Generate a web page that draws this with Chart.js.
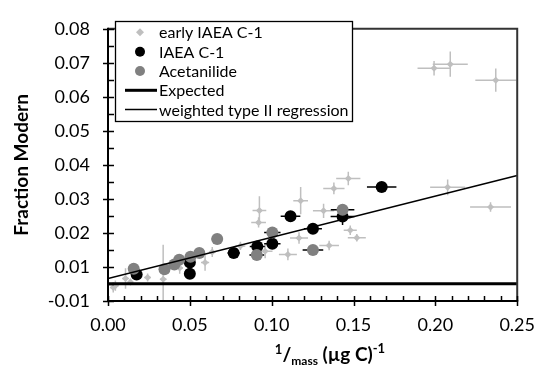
<!DOCTYPE html>
<html><head><meta charset="utf-8">
<script src="https://cdn.jsdelivr.net/npm/chart.js@4"></script>
<style>html,body{margin:0;padding:0;background:#fff}#wrap{width:548px;height:375px}</style>
</head><body><div id="wrap"><canvas id="c" width="548" height="375"></canvas></div>
<script>
// ---- data ----
const earlyX    = [0.0032,0.0045,0.0107,0.0137,0.0242,0.0337,0.0438,0.0593,0.0637,0.0809,0.0925,0.0920,0.0960,0.1099,0.1167,0.1177,0.1317,0.1380,0.1468,0.1351,0.1480,0.1520,0.1992,0.2091,0.2369,0.2075,0.2337];
const earlyY    = [0.0040,0.0045,0.0066,0.0056,0.0069,0.0064,0.0097,0.0113,0.0144,0.0162,0.0266,0.0231,0.0146,0.0137,0.0185,0.0295,0.0265,0.0331,0.0360,0.0163,0.0208,0.0186,0.0684,0.0696,0.0649,0.0334,0.0276];
const earlyXErr = [0.0020,0.0020,0.0020,0.0015,0.0020,0.0020,0.0020,0.0025,0.0020,0.0030,0.0042,0.0045,0.0045,0.0055,0.0055,0.0045,0.0065,0.0065,0.0074,0.0060,0.0040,0.0055,0.0101,0.0107,0.0125,0.0107,0.0125];
const earlyYErr = [0.0015,0.0015,0.0030,0.0010,0.0012,0.0101,0.0017,0.0024,0.0015,0.0012,0.0042,0.0015,0.0020,0.0017,0.0017,0.0040,0.0021,0.0017,0.0020,0.0014,0.0014,0.0011,0.0021,0.0037,0.0034,0.0023,0.0014];

const iaeaX    = [0.0175,0.0500,0.0500,0.0768,0.0912,0.1004,0.1115,0.1252,0.1433,0.1672];
const iaeaY    = [0.0078,0.0113,0.0080,0.0141,0.0160,0.0168,0.0249,0.0212,0.0248,0.0335];
const iaeaXErr = [0.0009,0.0025,0.0025,0.0038,0.0046,0.0050,0.0060,0.0055,0.0073,0.0090];
const iaeaYErr = [0.0008,0.0008,0.0008,0.0010,0.0010,0.0010,0.0010,0.0010,0.0025,0.0010];

const acetX    = [0.0157,0.0345,0.0405,0.0435,0.0504,0.0558,0.0667,0.0909,0.1004,0.1252,0.1433];
const acetY    = [0.0095,0.0093,0.0107,0.0121,0.0130,0.0141,0.0182,0.0135,0.0201,0.0150,0.0268];
const acetXErr = [0.0008,0.0017,0.0020,0.0022,0.0025,0.0028,0.0033,0.0045,0.0050,0.0063,0.0072];
const acetYErr = [0.0008,0.0008,0.0008,0.0008,0.0008,0.0008,0.0008,0.0008,0.0008,0.0008,0.0008];

const expectedX = [0, 0.25];
const expectedY = [0.0051, 0.0051];
const regressionX = [0, 0.25];
const regressionY = [0.0066, 0.0369];

const xTickValues = [0, 0.05, 0.10, 0.15, 0.20, 0.25];
const xTickLabels = ['0.00','0.05','0.10','0.15','0.20','0.25'];
const yTickValues = [0, 0.01, 0.02, 0.03, 0.04, 0.05, 0.06, 0.07, 0.08];
const yTickLabels = ['-0.01','0.01','0.02','0.03','0.04','0.05','0.06','0.07','0.08'];

const seriesNames = ['early IAEA C-1','IAEA C-1','Acetanilide','Expected','weighted type II regression'];
const yTitle = 'Fraction Modern';

const FONT = 'Lato, "Liberation Sans", sans-serif';
const C_EARLY = '#bfbfbf', C_IAEA = '#000000', C_ACET = '#808080';

const pts = (xs, ys) => xs.map((v, i) => ({x: v, y: ys[i]}));

const errSets = [
  {x: earlyX, y: earlyY, xe: earlyXErr, ye: earlyYErr, color: C_EARLY, w: 1.5},
  {x: iaeaX, y: iaeaY, xe: iaeaXErr, ye: iaeaYErr, color: '#000', w: 1.5},
  {x: acetX, y: acetY, xe: acetXErr, ye: acetYErr, color: '#000', w: 1.5},
];

const deco = {
  id: 'deco',
  beforeDatasetsDraw(chart) {
    const {ctx, chartArea: a, scales: {x, y}} = chart;
    ctx.save();
    ctx.beginPath(); ctx.rect(a.left, a.top, a.right - a.left, a.bottom - a.top); ctx.clip();
    errSets.forEach(s => {
      ctx.strokeStyle = s.color; ctx.lineWidth = s.w;
      s.x.forEach((xv, i) => {
        const px = x.getPixelForValue(xv), py = y.getPixelForValue(s.y[i]);
        const x0 = x.getPixelForValue(xv - s.xe[i]), x1 = x.getPixelForValue(xv + s.xe[i]);
        const y0 = y.getPixelForValue(s.y[i] - s.ye[i]), y1 = y.getPixelForValue(s.y[i] + s.ye[i]);
        ctx.beginPath();
        ctx.moveTo(x0, py); ctx.lineTo(x1, py);
        ctx.moveTo(px, y0); ctx.lineTo(px, y1);
        ctx.stroke();
      });
    });
    ctx.restore();
  },
  afterDraw(chart) {
    const {ctx, chartArea: a, scales: {x, y}} = chart;
    ctx.save();
    // plot frame (top / right)
    ctx.strokeStyle = '#333'; ctx.lineWidth = 2;
    ctx.beginPath(); ctx.moveTo(a.left, a.top); ctx.lineTo(a.right, a.top); ctx.lineTo(a.right, a.bottom); ctx.stroke();
    // axes
    ctx.strokeStyle = '#000'; ctx.lineWidth = 2;
    ctx.beginPath(); ctx.moveTo(a.left, a.top - 1); ctx.lineTo(a.left, a.bottom); ctx.lineTo(a.right + 1, a.bottom); ctx.stroke();
    // ticks
    ctx.lineWidth = 1.5;
    ctx.beginPath();
    for (let v = 0; v <= 0.0801; v += 0.005) {
      const py = Math.round(y.getPixelForValue(v)) + 0.5;
      const major = Math.abs(v / 0.01 - Math.round(v / 0.01)) < 1e-6;
      ctx.moveTo(major ? a.left - 5 : a.left, py); ctx.lineTo(a.left + 6, py);
    }
    for (let v = 0; v <= 0.2501; v += 0.01) {
      const px = Math.round(x.getPixelForValue(v)) + 0.5;
      const major = Math.abs(v / 0.05 - Math.round(v / 0.05)) < 1e-6;
      ctx.moveTo(px, major ? a.bottom + 5 : a.bottom); ctx.lineTo(px, a.bottom - 5);
    }
    ctx.stroke();

    // legend
    const lx = 115, ly = 21, lw = 237, lh = 100;
    ctx.fillStyle = '#fff'; ctx.fillRect(lx, ly, lw, lh);
    ctx.strokeStyle = '#000'; ctx.lineWidth = 1.3;
    ctx.strokeRect(lx + 0.5, ly + 0.5, lw, lh);
    const rows = [32.3, 51.7, 71, 90.3, 109.5];
    ctx.font = '16px ' + FONT; ctx.textBaseline = 'middle'; ctx.textAlign = 'left'; ctx.fillStyle = '#000';
    rows.forEach((ry, i) => {
      const ds = chart.data.datasets[i];
      if (i === 0) {
        ctx.fillStyle = C_EARLY; ctx.beginPath();
        ctx.moveTo(140, ry - 4); ctx.lineTo(144, ry); ctx.lineTo(140, ry + 4); ctx.lineTo(136, ry); ctx.closePath(); ctx.fill();
      } else if (i < 3) {
        ctx.fillStyle = ds.backgroundColor; ctx.beginPath(); ctx.arc(140, ry, 5, 0, Math.PI * 2); ctx.fill();
      } else {
        ctx.strokeStyle = '#000'; ctx.lineWidth = ds.borderWidth;
        ctx.beginPath(); ctx.moveTo(125, ry); ctx.lineTo(157, ry); ctx.stroke();
      }
      ctx.fillStyle = '#000';
      ctx.fillText(ds.label, 159, ry + 1);
    });

    // y title
    ctx.save();
    ctx.translate(22, (a.top + a.bottom) / 2);
    ctx.rotate(-Math.PI / 2);
    ctx.font = 'bold 19px ' + FONT; ctx.textAlign = 'center'; ctx.textBaseline = 'middle';
    ctx.fillText(yTitle, 0, 0);
    ctx.restore();

    // x title: 1/mass (µg C)^-1
    const parts = [
      {t: '1', f: 'bold 13px ' + FONT, dy: -7},
      {t: '/', f: 'bold 19px ' + FONT, dy: 0},
      {t: 'mass', f: 'bold 12px ' + FONT, dy: 4},
      {t: ' (µg C)', f: 'bold 19px ' + FONT, dy: 0},
      {t: '-1', f: 'bold 13px ' + FONT, dy: -8},
    ];
    let total = 0;
    parts.forEach(p => { ctx.font = p.f; p.w = ctx.measureText(p.t).width; total += p.w; });
    let cx = 330 - total / 2;
    const base = 361;
    ctx.textAlign = 'left'; ctx.textBaseline = 'alphabetic';
    parts.forEach(p => { ctx.font = p.f; ctx.fillText(p.t, cx, base + p.dy); cx += p.w; });
    ctx.restore();
  }
};

new Chart(document.getElementById('c'), {
  data: {
    datasets: [
      {type: 'scatter', label: seriesNames[0], data: pts(earlyX, earlyY), pointStyle: 'rectRot', pointRadius: 3.5, backgroundColor: C_EARLY, borderColor: C_EARLY, borderWidth: 0, order: 3},
      {type: 'scatter', label: seriesNames[1], data: pts(iaeaX, iaeaY), pointStyle: 'circle', pointRadius: 6, backgroundColor: C_IAEA, borderColor: C_IAEA, borderWidth: 0, order: 2},
      {type: 'scatter', label: seriesNames[2], data: pts(acetX, acetY), pointStyle: 'circle', pointRadius: 6, backgroundColor: C_ACET, borderColor: C_ACET, borderWidth: 0, order: 1},
      {type: 'line', label: seriesNames[3], data: pts(expectedX, expectedY), borderColor: '#000', borderWidth: 3, pointRadius: 0, fill: false, order: 0},
      {type: 'line', label: seriesNames[4], data: pts(regressionX, regressionY), borderColor: '#000', borderWidth: 1.5, pointRadius: 0, fill: false, order: 0},
    ]
  },
  options: {
    responsive: false, animation: false, devicePixelRatio: 1,
    layout: {padding: {left: 0, right: 20, top: 18, bottom: 0}},
    plugins: {legend: {display: false}, tooltip: {enabled: false}},
    scales: {
      x: {
        type: 'linear', min: 0, max: 0.25,
        afterFit: s => { s.height = 74; },
        afterBuildTicks: s => { s.ticks = xTickValues.map(v => ({value: v})); },
        ticks: {callback: (v, i) => xTickLabels[i], font: {family: FONT, size: 18}, color: '#000', padding: 13, maxRotation: 0},
        grid: {display: false, drawTicks: false}, border: {display: false}
      },
      y: {
        type: 'linear', min: 0, max: 0.08,
        afterFit: s => { s.width = 108; },
        afterBuildTicks: s => { s.ticks = yTickValues.map(v => ({value: v})); },
        ticks: {callback: (v, i) => yTickLabels[i], font: {family: FONT, size: 18}, color: '#000', padding: 18},
        grid: {display: false, drawTicks: false}, border: {display: false}
      }
    }
  },
  plugins: [deco]
});
</script>
</body></html>
